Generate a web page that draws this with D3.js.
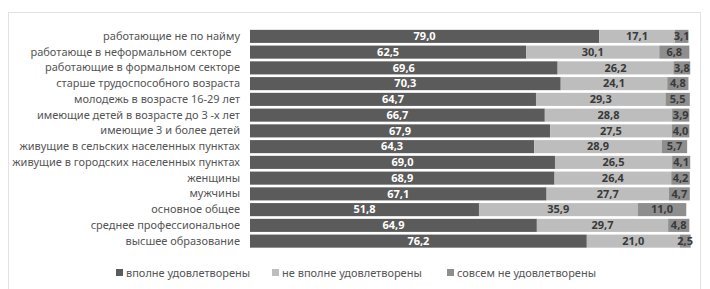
<!DOCTYPE html>
<html>
<head>
<meta charset="utf-8">
<script src="https://cdn.jsdelivr.net/npm/d3@7"></script>
<style>
  body { margin: 0; background: #fff; }
  svg text { font-family: "Noto Sans", "Open Sans", sans-serif; }
</style>
</head>
<body>
<svg class="chart"></svg>
<script>
var width = 710;
var height = 289;

// categories, top to bottom
var categories = [
  'работающие не по найму',
  'работающе в неформальном секторе\u00a0\u00a0\u00a0',
  'работающие в формальном секторе',
  'старше трудоспособного возраста',
  'молодежь в возрасте 16-29 лет',
  'имеющие детей в возрасте до 3 -х лет',
  'имеющие 3 и более детей',
  'живущие в сельских населенных пунктах',
  'живущие в городских населенных пунктах',
  'женщины',
  'мужчины',
  'основное общее',
  'среднее профессиональное',
  'высшее образование'
];

var series_names = ['вполне удовлетворены', 'не вполне удовлетворены', 'совсем не удовлетворены'];

var fully = [79.0, 62.5, 69.6, 70.3, 64.7, 66.7, 67.9, 64.3, 69.0, 68.9, 67.1, 51.8, 64.9, 76.2];
var partly = [17.1, 30.1, 26.2, 24.1, 29.3, 28.8, 27.5, 28.9, 26.5, 26.4, 27.7, 35.9, 29.7, 21.0];
var not_at_all = [3.1, 6.8, 3.8, 4.8, 5.5, 3.9, 4.0, 5.7, 4.1, 4.2, 4.7, 11.0, 4.8, 2.5];

var colors = ['#5b5b5b', '#bdbdbd', '#8e8e8e'];
var label_colors = ['#ffffff', '#3a3a3a', '#3a3a3a'];

var chart = d3.select('.chart')
    .attr('width', width)
    .attr('height', height);

// light frame of the chart area
chart.append('rect')
  .attr('x', 8.5).attr('y', 12.5)
  .attr('width', 692).attr('height', 290)
  .attr('fill', 'none')
  .attr('stroke', '#e2e2e2');

// build stacked rows
var rows = categories.map(function(c, i){
  return {'name': c, 'values': [fully[i], partly[i], not_at_all[i]]};
});
var stack_data = [];
rows.forEach(function(r){
  var x0 = 0;
  r.values.forEach(function(v, k){
    stack_data.push({'name': r.name, 'k': k, 'x0': x0, 'x1': x0 + v, 'value': v});
    x0 += v;
  });
});

var x = d3.scaleLinear()
  .domain([0, 100])
  .range([250, 692]);

var y = d3.scaleBand()
  .domain(categories)
  .range([28.5, 249])
  .paddingInner(0.17)
  .paddingOuter(0.085);

// category labels
chart.append('g')
  .attr('transform', 'translate(240,0)')
  .call(d3.axisLeft(y).tickSize(0).tickPadding(0))
  .call(function(g){ g.select('.domain').remove(); })
  .selectAll('text')
    .attr('fill', '#555')
    .style('font-size', '11px')
    .style('white-space', 'pre');

// bars
chart.append('g')
  .selectAll('rect')
  .data(stack_data)
  .join('rect')
    .attr('x', function(d){ return x(d.x0); })
    .attr('y', function(d){ return y(d.name); })
    .attr('width', function(d){ return x(d.x1) - x(d.x0); })
    .attr('height', y.bandwidth())
    .attr('fill', function(d){ return colors[d.k]; });

// value labels
chart.append('g')
  .selectAll('text')
  .data(stack_data)
  .join('text')
    .attr('x', function(d){ return (x(d.x0) + x(d.x1)) / 2; })
    .attr('y', function(d){ return y(d.name) + y.bandwidth() / 2; })
    .attr('dy', '0.35em')
    .attr('text-anchor', 'middle')
    .attr('fill', function(d){ return label_colors[d.k]; })
    .style('font-size', '11px')
    .style('font-weight', 'bold')
    .text(function(d){ return d3.format('.1f')(d.value).replace('.', ','); });

// legend
var legend_x = [116, 272, 447];
var legend = chart.append('g')
  .selectAll('g')
  .data(series_names)
  .join('g')
    .attr('transform', function(d, i){ return 'translate(' + legend_x[i] + ',273)'; });

legend.append('rect')
  .attr('x', 0).attr('y', -4)
  .attr('width', 7).attr('height', 7)
  .attr('fill', function(d, i){ return colors[i]; });

legend.append('text')
  .attr('x', 10)
  .attr('y', 0)
  .attr('dy', '0.35em')
  .attr('fill', '#555')
  .style('font-size', '11px')
  .text(function(d){ return d; });
</script>
</body>
</html>
